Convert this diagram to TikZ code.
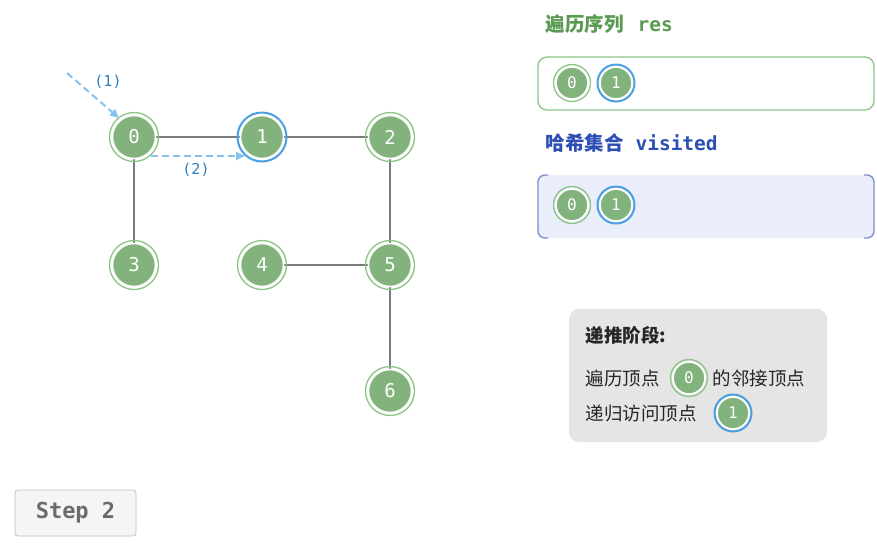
\documentclass[tikz,border=0pt]{standalone}
\usepackage{fontspec}
\setmainfont{Noto Sans CJK SC}
\newfontfamily\cjk{Noto Sans CJK SC}
\newfontfamily\monof{DejaVu Sans Mono}
\usetikzlibrary{arrows.meta}
\definecolor{vfill}{HTML}{82B37C}
\definecolor{vring}{HTML}{8CC486}
\definecolor{bring}{HTML}{4A9FE0}
\definecolor{edgec}{HTML}{7A7A7A}
\definecolor{arrc}{HTML}{86C2EE}
\definecolor{lblc}{HTML}{2F7FC1}
\definecolor{resg}{HTML}{5A9A53}
\definecolor{visb}{HTML}{2D4FB5}
\definecolor{visfill}{HTML}{E9EEFA}
\definecolor{visbord}{HTML}{7E90D2}
\definecolor{infog}{HTML}{E5E5E5}
\tikzset{
  vtx/.style={circle, fill=vfill, draw=white, line width=1.6pt, minimum size=#1, inner sep=0pt, text=white, font=\monof\fontsize{19}{19}\selectfont},
  vtx/.default=43pt,
  ringg/.style={circle, draw=vring, line width=1.3pt, fill=none, minimum size=#1, inner sep=0pt},
  ringb/.style={circle, draw=bring, line width=2pt, fill=none, minimum size=#1, inner sep=0pt},
  edge/.style={draw=edgec, line width=2.2pt},
  dasharr/.style={draw=arrc, line width=2pt, dash pattern=on 7pt off 4pt, -{Triangle[length=9pt,width=8pt]}},
  albl/.style={text=lblc, font=\monof\fontsize{15}{15}\selectfont},
  itxt/.style={anchor=west, font=\fontsize{18.5}{18.5}\selectfont, text=black!85},
}
\newcommand{\gv}[4]{% name, x, y, label
  \node[ringg=49pt] (#1r) at (#2,#3) {};
  \node[vtx] (#1) at (#2,#3) {#4};
}
\newcommand{\bv}[4]{%
  \node[ringb=49pt] (#1r) at (#2,#3) {};
  \node[vtx] (#1) at (#2,#3) {#4};
}
\newcommand{\gvs}[4]{%
  \node[ringg=37pt] (#1r) at (#2,#3) {};
  \node[vtx=32pt, font=\monof\fontsize{16}{16}\selectfont] (#1) at (#2,#3) {#4};
}
\newcommand{\bvs}[4]{%
  \node[ringb=37pt] (#1r) at (#2,#3) {};
  \node[vtx=32pt, font=\monof\fontsize{16}{16}\selectfont] (#1) at (#2,#3) {#4};
}
\begin{document}
\begin{tikzpicture}[x=1pt,y=-1pt]
\useasboundingbox (0,0) rectangle (877,542);
% edges
\coordinate (p0) at (134,137);
\coordinate (p1) at (262,137);
\coordinate (p2) at (390,137);
\coordinate (p3) at (134,265);
\coordinate (p4) at (262,265);
\coordinate (p5) at (390,265);
\coordinate (p6) at (390,391);
\draw[edge] (p0) -- (p1);
\draw[edge] (p1) -- (p2);
\draw[edge] (p0) -- (p3);
\draw[edge] (p2) -- (p5);
\draw[edge] (p4) -- (p5);
\draw[edge] (p5) -- (p6);
% vertices
\gv{n0}{134}{137}{0}
\bv{n1}{262}{137}{1}
\gv{n2}{390}{137}{2}
\gv{n3}{134}{265}{3}
\gv{n4}{262}{265}{4}
\gv{n5}{390}{265}{5}
\gv{n6}{390}{391}{6}
% arrows
\coordinate (s1) at (67,73);
\coordinate (e1) at (119,118);
\draw[dasharr] (s1) -- (e1);
\node[albl] (l1) at (108,82) {(1)};
\coordinate (s2) at (151,156);
\coordinate (e2) at (245,156);
\draw[dasharr] (s2) -- (e2);
\node[albl] (l2) at (196,170) {(2)};
% res
\node[anchor=west, text=resg, font=\fontsize{19.5}{19.5}\selectfont\bfseries] (rest) at (542,24) {遍历序列\hspace{14pt}{\monof\bfseries res}};
\draw[draw=vring, line width=1.3pt, rounded corners=9pt] (538,57) rectangle (874,110);
\gvs{r0}{572}{83}{0}
\bvs{r1}{616}{83}{1}
% visited
\node[anchor=west, text=visb, font=\fontsize{19.5}{19.5}\selectfont\bfseries] (vist) at (542,143) {哈希集合\hspace{12pt}{\monof\bfseries visited}};
\fill[visfill, rounded corners=8pt] (538,175) rectangle (874,238);
\draw[visbord, line width=1.4pt, rounded corners=7pt] (548,175) -- (538,175) -- (538,238) -- (548,238);
\draw[visbord, line width=1.4pt, rounded corners=7pt] (864,175) -- (874,175) -- (874,238) -- (864,238);
\gvs{v0}{572}{205}{0}
\bvs{v1}{616}{205}{1}
% info
\fill[infog, rounded corners=10pt] (569,309) rectangle (827,442);
\node[itxt, font=\fontsize{18.5}{18.5}\selectfont\bfseries] (it) at (582,335) {递推阶段:};
\node[itxt] (ia) at (582,378) {遍历顶点};
\gvs{i0}{689}{378}{0}
\node[itxt] (ib) at (709,378) {的邻接顶点};
\node[itxt] (ic) at (582,413) {递归访问顶点};
\bvs{i1}{733}{413}{1}
% step
\node[draw=black!25, fill=black!4, rounded corners=3pt, line width=0.8pt, minimum width=121pt, minimum height=46pt, text=black!58, font=\monof\bfseries\fontsize{22}{22}\selectfont] (step) at (75.5,513) {Step 2};
\end{tikzpicture}
\end{document}
